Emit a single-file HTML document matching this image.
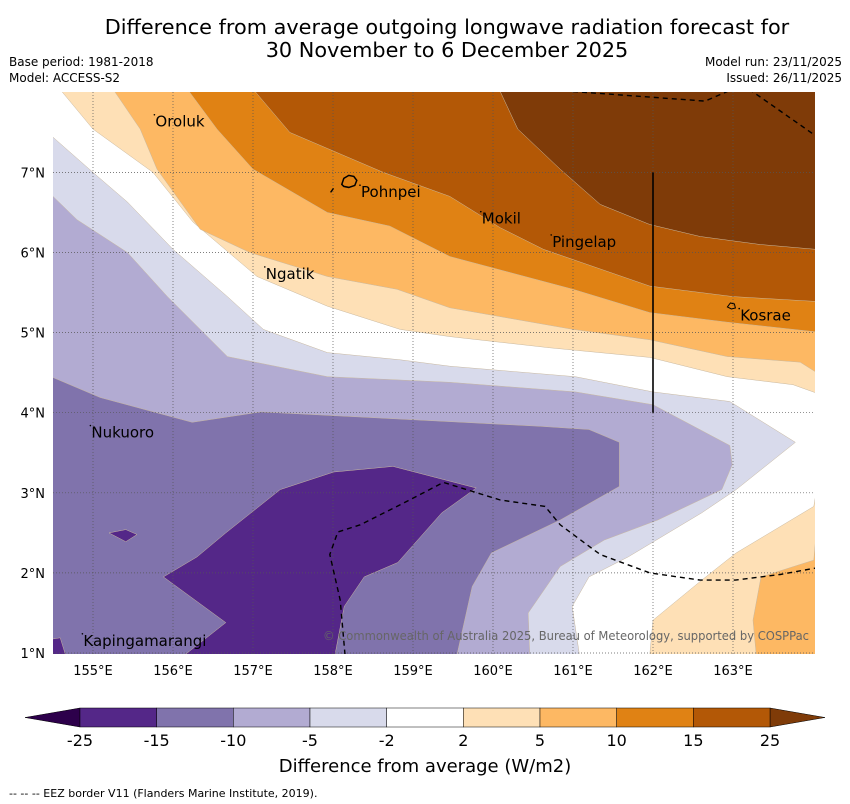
<!DOCTYPE html>
<html><head><meta charset="utf-8"><style>
body{margin:0;background:#fff;width:850px;height:804px;overflow:hidden;font-family:"Liberation Sans","DejaVu Sans",sans-serif}
svg{display:block}
</style></head><body>
<svg id="chart" width="850" height="804" viewBox="0 0 850 804" xmlns="http://www.w3.org/2000/svg" font-family="'DejaVu Sans','Liberation Sans',sans-serif">
<text x="447" y="34" font-size="20.8" text-anchor="middle">Difference from average outgoing longwave radiation forecast for</text>
<text x="447" y="57" font-size="20.8" text-anchor="middle">30 November to 6 December 2025</text>
<text x="9" y="66" font-size="12">Base period: 1981-2018</text>
<text x="9" y="82" font-size="12">Model: ACCESS-S2</text>
<text x="842" y="66" font-size="12" text-anchor="end">Model run: 23/11/2025</text>
<text x="842" y="82" font-size="12" text-anchor="end">Issued: 26/11/2025</text>
<defs><clipPath id="plotclip"><rect x="53" y="92" width="762" height="562"/></clipPath></defs>
<g id="plot" clip-path="url(#plotclip)"></g>
<g id="axes"></g>
<g id="legend"></g>
<text x="425" y="772" font-size="18" text-anchor="middle">Difference from average (W/m2)</text>
<text x="9" y="797" font-size="11">--  --  -- EEZ border V11 (Flanders Marine Institute, 2019).</text>
</svg>
<script>
const lonTicks=[155,156,157,158,159,160,161,162,163];
const latTicks=[1,2,3,4,5,6,7];
const levelLabels=["-25","-15","-10","-5","-2","2","5","10","15","25"];
const bandColors=["#542788","#8073ac","#b2abd2","#d8daeb","#ffffff","#fee0b6","#fdb863","#e08214","#b35806"];
const lowColor="#2d004b", highColor="#7f3b08";
// contours (lon, lat)
const pos2=[[154.61,8.01],[155.0,7.54],[155.75,7.0],[156.25,6.38],[157.05,5.7],[157.93,5.33],[158.84,5.04],[159.46,4.95],[160.71,4.81],[161.96,4.69],[162.93,4.45],[163.75,4.35],[164.03,4.25]];
const pos5=[[155.25,8.04],[155.59,7.54],[155.8,7.04],[156.34,6.29],[156.96,6.0],[157.93,5.7],[158.8,5.54],[159.46,5.31],[161.0,5.04],[161.96,4.91],[162.93,4.7],[163.84,4.63],[164.03,4.51]];
const pos10=[[156.18,8.04],[156.55,7.54],[157.0,7.04],[157.93,6.5],[158.71,6.33],[159.46,5.95],[161.0,5.54],[161.96,5.25],[162.93,5.13],[164.03,5.01]];
const pos15=[[157.0,8.04],[157.46,7.5],[158.63,7.0],[159.46,6.7],[160.09,6.31],[160.63,6.04],[161.96,5.58],[163.0,5.45],[164.03,5.39]];
const pos25=[[160.09,8.01],[160.31,7.54],[160.84,7.04],[161.34,6.6],[161.96,6.35],[162.59,6.2],[163.34,6.1],[164.03,6.04]];
const lr2=[[161.96,0.98],[162.0,1.41],[162.61,1.91],[163.04,2.25],[164.01,2.83],[164.03,2.95]];
const lr5=[[163.29,0.98],[163.25,1.41],[163.35,1.95],[164.01,2.16],[164.03,2.39]];
const neg2=[[154.5,7.44],[155.0,7.0],[155.43,6.63],[156.0,6.04],[156.68,5.45],[157.13,5.04],[157.93,4.75],[158.84,4.66],[159.46,4.58],[161.03,4.45],[162.0,4.26],[162.96,4.14],[163.78,3.63],[163.04,3.04],[162.61,2.75],[161.69,2.2],[161.2,1.95],[160.99,1.58],[161.08,0.98]];
const neg5=[[154.5,6.7],[154.8,6.41],[155.43,6.0],[155.93,5.45],[156.34,5.04],[156.68,4.7],[157.93,4.45],[159.46,4.38],[161.03,4.26],[162.0,4.1],[162.96,3.59],[162.99,3.35],[162.86,3.04],[162.06,2.66],[161.39,2.41],[160.84,2.08],[160.44,1.5],[160.46,0.98]];
const neg10=[[154.5,4.44],[155.09,4.19],[156.24,3.88],[157.1,4.01],[160.59,3.83],[161.2,3.79],[161.58,3.63],[161.58,3.08],[160.84,2.66],[159.98,2.25],[159.74,1.83],[159.55,0.98]];
const neg15=[[156.05,0.9],[156.66,1.38],[155.88,1.95],[156.3,2.2],[156.66,2.5],[157.34,3.04],[158.01,3.26],[158.75,3.33],[159.79,3.06],[159.36,2.75],[158.81,2.13],[158.39,1.95],[158.14,1.58],[158.01,0.9]];
const neg15b=[[155.2,2.5],[155.41,2.54],[155.55,2.48],[155.41,2.39]];
const neg15c=[[154.4,1.16],[154.59,1.19],[154.68,0.9],[154.4,0.9]];
const eezSouth=[[158.15,0.98],[158.09,1.66],[157.96,2.23],[158.06,2.51],[158.34,2.6],[158.84,2.85],[159.38,3.13],[160.09,2.91],[160.65,2.83],[160.84,2.6],[161.34,2.23],[161.96,2.0],[162.59,1.91],[163.03,1.91],[163.59,1.98],[164.03,2.06]];
const eezNorth1=[[161.0,8.01],[162.65,7.89],[163.0,8.04]];
const eezNorth2=[[163.2,8.04],[164.03,7.46]];
const eezPohnpei=[[157.97,6.75],[158.02,6.82]];
const places=[["Oroluk",155.78,7.57],["Pohnpei",158.35,6.69],["Mokil",159.86,6.36],["Pingelap",160.74,6.07],["Ngatik",157.16,5.67],["Kosrae",163.09,5.15],["Nukuoro",154.98,3.69],["Kapingamarangi",154.88,1.09]];

const X=lon=>93+(lon-155)*80, Y=lat=>653-(lat-1)*80.1;
const NS="http://www.w3.org/2000/svg";
const plot=document.getElementById('plot'),axes=document.getElementById('axes'),leg=document.getElementById('legend');
function mk(tag,attrs,parent){const e=document.createElementNS(NS,tag);for(const k in attrs)e.setAttribute(k,attrs[k]);parent.appendChild(e);return e;}
function pts(a){return a.map(p=>X(p[0]).toFixed(1)+','+Y(p[1]).toFixed(1)).join(' ');}
function upper(a){const l=a[a.length-1],f=a[0];return a.concat([[165,l[1]],[165,8.6],[f[0],8.6]]);}
function lowerRight(a){const l=a[a.length-1],f=a[0];return a.concat([[165,l[1]],[165,0.5],[f[0],0.5]]);}
function lowerLeft(a){const l=a[a.length-1],f=a[0];return a.concat([[l[0],0.5],[154,0.5],[154,f[1]]]);}
function fill(a,color,name){const p=mk('polygon',{points:pts(a),fill:color,stroke:'#c8b8a0','stroke-width':0.5},plot);

}
let bg=mk('rect',{x:53,y:92,width:762,height:562,fill:'#ffffff'},plot);


fill(upper(pos2),bandColors[5],'band-2-to-5');
fill(upper(pos5),bandColors[6],'band-5-to-10');
fill(upper(pos10),bandColors[7],'band-10-to-15');
fill(upper(pos15),bandColors[8],'band-15-to-25');
fill(upper(pos25),highColor,'band-above-25');
fill(lowerRight(lr2),bandColors[5],'band-2-to-5-south');
fill(lowerRight(lr5),bandColors[6],'band-5-to-10-south');
fill(lowerLeft(neg2),bandColors[3],'band-minus2-to-minus5');
fill(lowerLeft(neg5),bandColors[2],'band-minus5-to-minus10');
fill(lowerLeft(neg10),bandColors[1],'band-minus10-to-minus15');
fill(neg15,bandColors[0],'band-minus15-to-minus25');
fill(neg15b,bandColors[0],'band-minus15-patch');
fill(neg15c,bandColors[0],'band-minus15-corner');
// grid
lonTicks.forEach(l=>{const g=mk('line',{x1:X(l),x2:X(l),y1:92,y2:654,stroke:'#555','stroke-width':0.7,'stroke-dasharray':'1,2'},plot);

});
latTicks.forEach(l=>{const g=mk('line',{x1:53,x2:815,y1:Y(l),y2:Y(l),stroke:'#555','stroke-width':0.7,'stroke-dasharray':'1,2'},plot);

});
// EEZ
[eezSouth,eezNorth1,eezNorth2,eezPohnpei].forEach(a=>{const e=mk('polyline',{points:pts(a),fill:'none',stroke:'#000','stroke-width':1.4,'stroke-dasharray':'5,4'},plot);

});
const vl=mk('line',{x1:X(162),x2:X(162),y1:Y(7),y2:Y(4),stroke:'#000','stroke-width':1.6},plot);


// islands
const pi=mk('path',{d:`M${X(158.11)},${Y(6.85)} l2,-6 5,-3 5,1 3,4 -2,5 -6,2 -5,-1z`,fill:'none',stroke:'#000','stroke-width':1.5},plot);


const ki=mk('path',{d:`M${X(162.93)},${Y(5.32)} l3,-4 4,1 1,4 -4,1z`,fill:'none',stroke:'#000','stroke-width':1},plot);


places.forEach(p=>{const t=mk('text',{x:X(p[1]),y:Y(p[2]),'font-size':15},plot);t.textContent=p[0];


const d=mk('circle',{cx:X(p[1])-1,cy:Y(p[2])-12,r:0.8,fill:'#000'},plot);

});
const cp=mk('text',{x:809,y:640,'font-size':12,fill:'#666','text-anchor':'end',textLength:486,lengthAdjust:'spacingAndGlyphs'},plot);
cp.textContent='© Commonwealth of Australia 2025, Bureau of Meteorology, supported by COSPPac';


// axis labels
lonTicks.forEach(l=>{const t=mk('text',{x:X(l),y:675,'font-size':13,'text-anchor':'middle'},axes);t.textContent=l+'°E';

});
latTicks.forEach(l=>{const t=mk('text',{x:45,y:Y(l)+5,'font-size':13,'text-anchor':'end'},axes);t.textContent=l+'°N';

});
// legend
const lx0=80,lx1=770,ly=708,lh=19,sw=(lx1-lx0)/bandColors.length;
const lt=mk('polygon',{points:`${lx0},${ly} ${lx0},${ly+lh} 25,${ly+lh/2}`,fill:lowColor,stroke:'#000','stroke-width':0.5},leg);


const rt=mk('polygon',{points:`${lx1},${ly} ${lx1},${ly+lh} 825,${ly+lh/2}`,fill:highColor,stroke:'#000','stroke-width':0.5},leg);


bandColors.forEach((c,i)=>{const r=mk('rect',{x:lx0+i*sw,y:ly,width:sw,height:lh,fill:c,stroke:'#000','stroke-width':0.5},leg);

});
levelLabels.forEach((s,i)=>{const t=mk('text',{x:lx0+i*sw,y:746,'font-size':16,'text-anchor':'middle'},leg);t.textContent=s;

});
</script>
</body></html>
